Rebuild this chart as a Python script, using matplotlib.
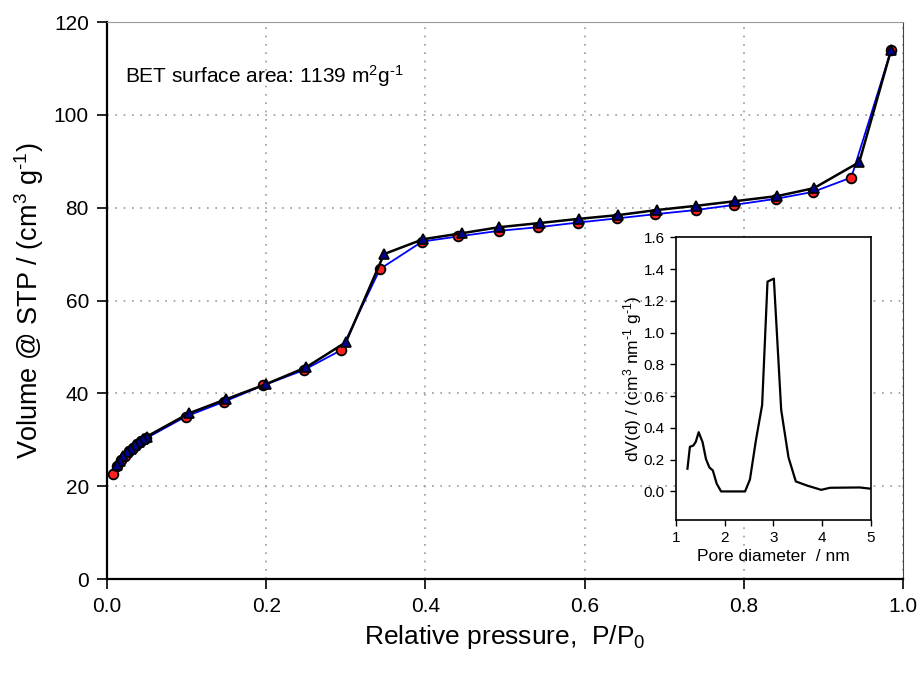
import matplotlib
matplotlib.use("Agg")
import matplotlib.pyplot as plt
import numpy as np

plt.rcParams['font.family'] = ['Liberation Sans', 'DejaVu Sans']
plt.rcParams['mathtext.default'] = 'regular'

# adsorption branch (red circles, blue line)
p_ads = [0.008, 0.013, 0.018, 0.023, 0.028, 0.033, 0.038, 0.043, 0.049,
         0.099, 0.147, 0.196, 0.247, 0.294, 0.343, 0.396, 0.441, 0.492,
         0.542, 0.592, 0.641, 0.689, 0.740, 0.788, 0.840, 0.887, 0.935, 0.985]
v_ads = [22.6, 24.3, 25.6, 26.6, 27.5, 28.3, 29.0, 29.7, 30.3,
         35.0, 38.2, 41.7, 45.0, 49.3, 66.8, 72.7, 73.8, 75.0,
         75.8, 76.8, 77.7, 78.6, 79.5, 80.6, 81.9, 83.4, 86.5, 113.9]

# desorption branch (blue triangles, black line)
p_des = [0.985, 0.945, 0.888, 0.842, 0.789, 0.740, 0.691, 0.642, 0.593,
         0.544, 0.493, 0.446, 0.397, 0.348, 0.300, 0.250, 0.200, 0.149,
         0.103, 0.050, 0.045, 0.040, 0.035, 0.030, 0.025, 0.020, 0.016, 0.013]
v_des = [114.0, 89.8, 84.2, 82.5, 81.4, 80.4, 79.5, 78.4, 77.6,
         76.7, 75.8, 74.5, 73.2, 70.0, 51.0, 45.6, 42.0, 38.7,
         35.7, 30.7, 30.1, 29.5, 28.8, 28.1, 27.3, 26.4, 25.5, 24.6]

# pore size distribution (inset)
d_pore = [1.24, 1.29, 1.36, 1.41, 1.47, 1.55, 1.62, 1.69, 1.76, 1.84, 1.93,
          2.42, 2.52, 2.64, 2.77, 2.88, 3.01, 3.16, 3.31, 3.46, 3.68, 3.98,
          4.16, 4.77, 5.0]
dv_pore = [0.143, 0.281, 0.289, 0.312, 0.373, 0.310, 0.203, 0.151, 0.132, 0.048, 0.0,
           0.0, 0.075, 0.317, 0.545, 1.321, 1.340, 0.514, 0.214, 0.063, 0.038, 0.010,
           0.023, 0.025, 0.017]

fig = plt.figure(figsize=(9.21, 6.75), dpi=100)
ax = fig.add_axes([0.1162, 0.1422, 0.8643, 0.8252])

ax.plot(p_ads, v_ads, color='#0000ff', lw=1.3, marker='o', ms=7,
        mfc='#ff2020', mec='black', mew=1.3, zorder=3)
ax.plot(p_des, v_des, color='black', lw=1.8, marker='^', ms=7,
        mfc='#000090', mec='black', mew=1.2, zorder=4)

ax.set_xlim(0, 1.0)
ax.set_ylim(0, 120)
ax.set_xticks(np.arange(0, 1.01, 0.2))
ax.set_yticks(np.arange(0, 121, 20))
ax.set_xticklabels(['0.0', '0.2', '0.4', '0.6', '0.8', '1.0'])
ax.grid(True, linestyle=(0, (1, 4)), color='#999999', lw=1.2)
ax.tick_params(direction='out', length=7, width=1.2, labelsize=15, pad=6)
for s in ['left', 'bottom']:
    ax.spines[s].set_linewidth(1.6)
ax.spines['top'].set_color('#999999')
ax.spines['right'].set_color('#444444')
ax.set_xlabel('Relative pressure,  P/P$_0$', fontsize=19, labelpad=5)
ax.set_ylabel('Volume @ STP / (cm$^3$ g$^{\u20101}$)', fontsize=19.5, labelpad=6)
ax.text(0.022, 0.903, 'BET surface area: 1139 m$^2$g$^{\u20101}$', transform=ax.transAxes,
        fontsize=15, va='center')

ins = fig.add_axes([0.7337, 0.2296, 0.2120, 0.4188])
ins.plot(d_pore, dv_pore, color='black', lw=1.6)
ins.set_xlim(1, 5)
ins.set_ylim(-0.18, 1.6)
ins.set_xticks([1, 2, 3, 4, 5])
ins.set_yticks(np.arange(0, 1.61, 0.2))
ins.set_yticklabels(['%.1f' % v for v in np.arange(0, 1.61, 0.2)])
ins.tick_params(direction='out', length=4, width=1, labelsize=11, pad=4)
for s in ins.spines.values():
    s.set_linewidth(1.2)
ins.set_xlabel('Pore diameter  / nm', fontsize=12.5, labelpad=3)
ins.set_ylabel('dV(d) / (cm$^3$ nm$^{\u20101}$ g$^{\u20101}$)', fontsize=12.5, labelpad=0)

fig.savefig('out.png', dpi=100)
